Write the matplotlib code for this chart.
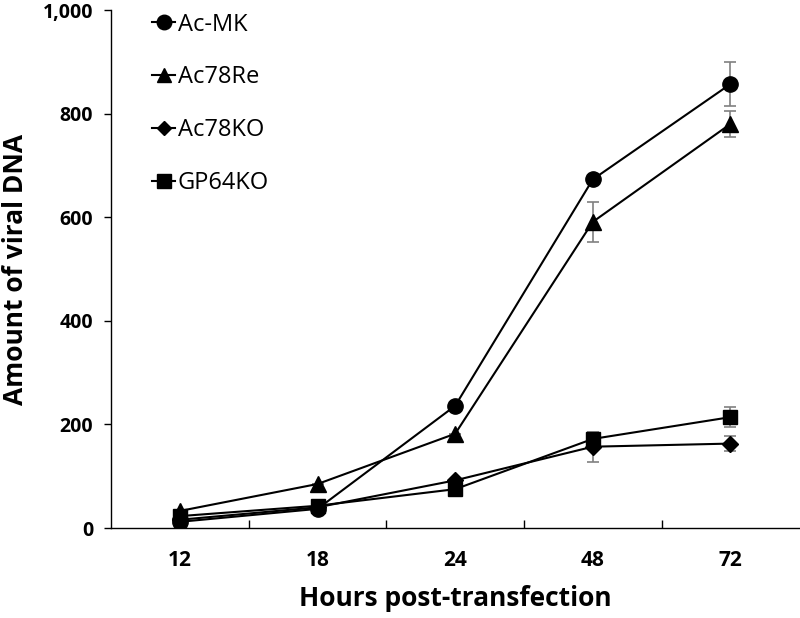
import numpy as np
import matplotlib.pyplot as plt
from matplotlib.ticker import FuncFormatter

plt.rcParams['font.family'] = ['Open Sans', 'DejaVu Sans']

# Data
hours = ['12', '18', '24', '48', '72']
ac_mk = [12, 37, 236, 673, 857]
ac_mk_err = [0, 0, 0, 0, 42]
ac78re = [33, 85, 182, 591, 780]
ac78re_err = [0, 0, 0, 39, 25]
ac78ko = [16, 40, 92, 157, 163]
ac78ko_err = [0, 0, 0, 29, 15]
gp64ko = [23, 43, 75, 172, 214]
gp64ko_err = [0, 0, 0, 8, 19]

x = np.arange(len(hours))

fig = plt.figure(figsize=(8, 6.18), dpi=100)
ax = fig.add_axes([0.139, 0.1456, 0.86, 0.8382])

series = [
    ('Ac-MK', ac_mk, ac_mk_err, 'o', 11),
    ('Ac78Re', ac78re, ac78re_err, '^', 11),
    ('Ac78KO', ac78ko, ac78ko_err, 'D', 8),
    ('GP64KO', gp64ko, gp64ko_err, 's', 10),
]

for name, vals, err, mk, ms in series:
    ax.errorbar(x, vals, yerr=err, fmt='none', ecolor='#808080',
                elinewidth=1.2, capsize=4, capthick=1.2, zorder=2)
    ax.plot(x, vals, color='black', lw=1.5, marker=mk, ms=ms,
            mfc='black', mec='black', label=name, zorder=3)

ax.set_xlim(-0.5, 4.5)
ax.set_ylim(0, 1000)
ax.set_yticks(np.arange(0, 1001, 200))
ax.yaxis.set_major_formatter(FuncFormatter(lambda v, p: f'{int(v):,}'))
ax.set_xticks(x)
ax.set_xticklabels(hours)
ax.set_xticks(np.arange(0.5, 4.5, 1), minor=True)
ax.tick_params(axis='x', which='major', length=0, pad=16, labelsize=15)
ax.tick_params(axis='x', which='minor', direction='in', length=6, width=1)
ax.tick_params(axis='y', direction='out', length=5, width=1, labelsize=14, pad=8)
for lab in ax.get_xticklabels() + ax.get_yticklabels():
    lab.set_fontweight('bold')

ax.spines['top'].set_visible(False)
ax.spines['right'].set_visible(False)
ax.spines['left'].set_linewidth(1)
ax.spines['bottom'].set_linewidth(1)

ax.set_xlabel('Hours post-transfection', fontsize=19, fontweight='bold', labelpad=10)
ax.set_ylabel('Amount of viral DNA', fontsize=19, fontweight='bold', labelpad=10)

ax.legend(loc='upper left', bbox_to_anchor=(0.028, 1.036), frameon=False,
          fontsize=17, handlelength=1.0, handletextpad=0.1, labelspacing=1.22,
          markerscale=0.95)

fig.savefig('out.png', dpi=100)
